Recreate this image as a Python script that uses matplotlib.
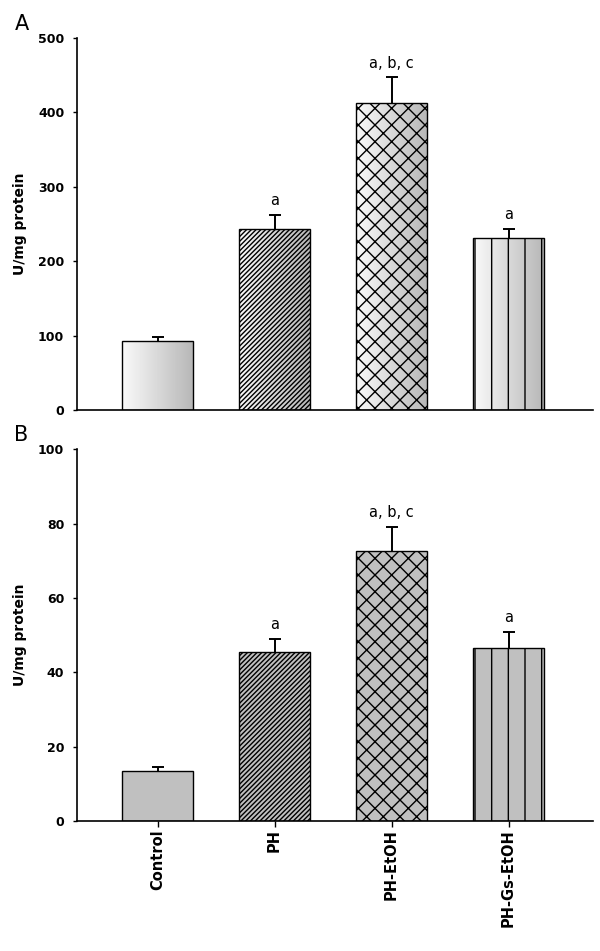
import numpy as np
import matplotlib
matplotlib.use('Agg')
import matplotlib.pyplot as plt
from matplotlib.colors import LinearSegmentedColormap

plt.rcParams['font.family'] = 'DejaVu Sans'
plt.rcParams['hatch.linewidth'] = 1.0

groups = ['Control', 'PH', 'PH-EtOH', 'PH-Gs-EtOH']
hatches = ['', '///////', 'xx', '|']
letters = ['', 'a', 'a, b, c', 'a']

# panel A
mean_a = [93, 243, 413, 231]
err_a = [5.5, 19, 34, 12]
# panel B
mean_b = [13.4, 45.5, 72.7, 46.6]
err_b = [1.0, 3.5, 6.3, 4.2]

fig = plt.figure(figsize=(6, 9.51), dpi=100)
ax_a = fig.add_axes([0.128, 0.5689, 0.86, 0.3911])
ax_b = fig.add_axes([0.128, 0.1367, 0.86, 0.3909])

x = np.arange(len(groups))
w = 0.6
grad = np.linspace(0, 1, 64).reshape(1, -1)
grey_ramp = LinearSegmentedColormap.from_list('ramp', ['#fafafa', '#b8b8b8'])


def draw_panel(ax, means, errs, ymax, step, gradient):
    if gradient:
        bars = ax.bar(x, means, w, facecolor='none', edgecolor='black',
                      linewidth=1.0, zorder=2)
        for b, h in zip(bars, hatches):
            b.set_hatch(h)
            im = ax.imshow(grad, cmap=grey_ramp,
                           extent=(b.get_x(), b.get_x() + b.get_width(), 0, b.get_height()),
                           aspect='auto', zorder=1, interpolation='bilinear')
            im.set_clip_path(b)
    else:
        bars = ax.bar(x, means, w, color='#c0c0c0', edgecolor='black',
                      linewidth=1.0, zorder=2)
        for b, h in zip(bars, hatches):
            b.set_hatch(h)

    eb = ax.errorbar(x, means, yerr=[np.zeros(len(means)), errs], fmt='none',
                     ecolor='black', elinewidth=1.4, capsize=4.5, capthick=1.4, zorder=3)
    eb[1][0].set_visible(False)

    for xi, m, e, t in zip(x, means, errs, letters):
        if t:
            ax.annotate(t, (xi, m + e), xytext=(0, 5), textcoords='offset points',
                        ha='center', va='bottom', fontsize=10.5)

    ax.set_xlim(-0.69, 3.72)
    ax.set_ylim(0, ymax)
    ax.set_yticks(np.arange(0, ymax + 1, step))
    ax.spines['top'].set_visible(False)
    ax.spines['right'].set_visible(False)
    ax.spines['left'].set_linewidth(1.2)
    ax.spines['bottom'].set_linewidth(1.2)
    ax.tick_params(axis='y', length=3, width=1, pad=6, labelsize=9)
    for lab in ax.get_yticklabels():
        lab.set_fontweight('bold')
    ax.set_ylabel('U/mg protein', fontsize=10, fontweight='bold', labelpad=8)


draw_panel(ax_a, mean_a, err_a, 500, 100, True)
ax_a.set_xticks([])

draw_panel(ax_b, mean_b, err_b, 100, 20, False)
ax_b.set_xticks(x)
ax_b.set_xticklabels(groups, rotation=90, fontsize=10.5, fontweight='bold')
ax_b.tick_params(axis='x', length=4, width=1, pad=2)

fig.text(0.025, 0.985, 'A', fontsize=15, va='top', ha='left')
fig.text(0.023, 0.553, 'B', fontsize=15, va='top', ha='left')

plt.savefig('out.png', dpi=100)
